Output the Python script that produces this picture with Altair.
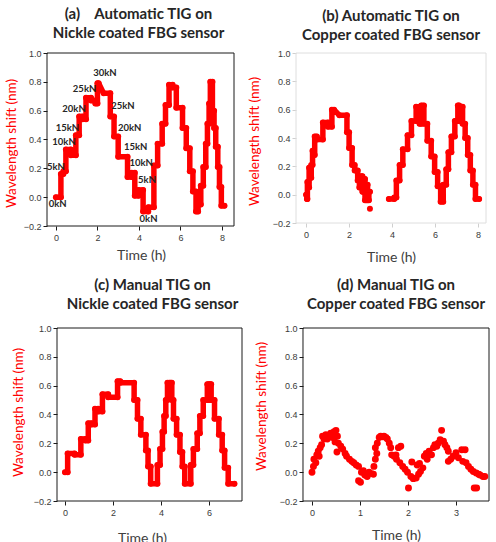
import altair as alt
import pandas as pd

RED = "#ff0000"
INK = "#262626"
LABEL_GREY = "#3a3a3a"
TITLE_FONT = "Lato"
TICK_FONT = "Liberation Sans"

Y_DOMAIN = [-0.2, 1.0]
Y_TICKS = [-0.2, 0.0, 0.2, 0.4, 0.6, 0.8, 1.0]

# ---------------- (a) Automatic TIG, nickel-coated FBG: load steps ----------------
a_start = [0.00, 0.24, 0.36, 0.48, 0.72, 0.96, 1.12, 1.28, 1.45, 1.69, 1.90, 2.00, 2.30, 2.62, 2.80,
           3.00, 3.45, 3.65, 3.80, 3.98, 4.20, 4.45, 4.72, 4.90, 5.12, 5.28, 5.45, 5.62, 5.80, 6.10,
           6.28, 6.45, 6.60, 6.75, 6.85, 6.98, 7.10, 7.22, 7.30, 7.38, 7.44, 7.54, 7.62, 7.70, 7.80,
           7.88, 7.97]
a_end = [0.24, 0.36, 0.48, 0.72, 0.96, 1.12, 1.28, 1.45, 1.69, 1.90, 2.00, 2.06, 2.62, 2.80, 3.00,
         3.45, 3.65, 3.80, 3.98, 4.20, 4.45, 4.72, 4.90, 5.12, 5.28, 5.45, 5.62, 5.80, 6.10, 6.28,
         6.45, 6.60, 6.75, 6.85, 6.98, 7.10, 7.22, 7.30, 7.38, 7.44, 7.54, 7.62, 7.70, 7.80, 7.88,
         7.97, 8.12]
a_level = [0.00, 0.16, 0.18, 0.33, 0.29, 0.43, 0.56, 0.54, 0.69, 0.67, 0.65, 0.79, 0.72, 0.56, 0.42,
           0.28, 0.14, 0.17, 0.01, 0.05, -0.10, -0.07, 0.22, 0.37, 0.51, 0.64, 0.78, 0.76, 0.62, 0.48,
           0.34, 0.18, 0.04, -0.10, -0.05, 0.08, 0.21, 0.37, 0.51, 0.65, 0.80, 0.60, 0.48, 0.35, 0.21,
           0.07, -0.06]

# load annotations on (a)
a_note_text = ["0kN", "5kN", "10kN", "15kN", "20kN", "25kN", "30kN",
               "25kN", "20kN", "15kN", "10kN", "5kN", "0kN"]
a_note_t = [0.08, 0.00, 0.39, 0.55, 0.87, 1.38, 2.36, 3.23, 3.55, 3.84, 4.11, 4.39, 4.46]
a_note_y = [-0.05, 0.21, 0.38, 0.48, 0.61, 0.75, 0.86, 0.63, 0.48, 0.35, 0.24, 0.12, -0.15]

# ---------------- (b) Automatic TIG, copper-coated FBG ----------------
b1_start = [0.00, 0.04, 0.06, 0.10, 0.14, 0.20, 0.24, 0.30, 0.34, 0.40, 0.50, 0.78, 1.02, 1.20,
            1.55, 1.90, 2.00, 2.14, 2.26, 2.40, 2.48, 2.56, 2.62, 2.68, 2.74, 2.80, 2.86, 2.92]
b1_end = [0.04, 0.06, 0.10, 0.14, 0.20, 0.24, 0.30, 0.34, 0.40, 0.50, 0.78, 1.02, 1.20, 1.30,
          1.90, 2.00, 2.14, 2.26, 2.40, 2.48, 2.56, 2.62, 2.68, 2.74, 2.80, 2.86, 2.92, 2.97]
b1_level = [0.00, -0.03, 0.09, 0.05, 0.19, 0.12, 0.21, 0.31, 0.28, 0.41, 0.39, 0.51, 0.48, 0.60,
            0.56, 0.44, 0.33, 0.21, 0.17, 0.10, 0.05, 0.13, 0.02, 0.11, -0.04, 0.07, -0.04, 0.02]

b2_start = [3.85, 4.10, 4.20, 4.35, 4.50, 4.72, 4.90, 5.12, 5.28, 5.36, 5.48, 5.64, 5.82, 5.98,
            6.12, 6.26, 6.38, 6.52, 6.62, 6.76, 6.92, 7.06, 7.12, 7.18, 7.28, 7.40, 7.52, 7.64,
            7.76, 7.88]
b2_end = [4.10, 4.20, 4.35, 4.50, 4.72, 4.90, 5.12, 5.28, 5.36, 5.48, 5.64, 5.82, 5.98, 6.12,
          6.26, 6.38, 6.52, 6.62, 6.76, 6.92, 7.06, 7.12, 7.18, 7.28, 7.40, 7.52, 7.64, 7.76,
          7.88, 8.05]
b2_level = [-0.03, -0.02, 0.10, 0.21, 0.32, 0.42, 0.52, 0.62, 0.50, 0.63, 0.50, 0.38, 0.27, 0.16,
            0.06, -0.05, 0.07, 0.18, 0.30, 0.41, 0.52, 0.63, 0.52, 0.62, 0.50, 0.40, 0.28, 0.17,
            0.07, -0.03]

b_stray_t = [2.97]
b_stray_y = [-0.10]

# ---------------- (c) Manual TIG, nickel-coated FBG ----------------
c_start = [0.00, 0.11, 0.40, 0.66, 0.85, 0.97, 1.10, 1.25, 1.38, 1.56, 1.80, 2.19, 2.30, 2.88,
           3.02, 3.16, 3.37, 3.46, 3.57, 3.85, 3.96, 4.06, 4.13, 4.20, 4.27, 4.35, 4.40, 4.45,
           4.52, 4.65, 4.79, 4.89, 4.99, 5.24, 5.35, 5.51, 5.62, 5.76, 5.93, 6.00, 6.04, 6.09,
           6.23, 6.41, 6.55, 6.65, 6.80]
c_end = [0.11, 0.40, 0.66, 0.85, 0.97, 1.10, 1.25, 1.38, 1.56, 1.80, 2.19, 2.30, 2.88, 3.02,
         3.16, 3.37, 3.46, 3.57, 3.85, 3.96, 4.06, 4.13, 4.20, 4.27, 4.35, 4.40, 4.45, 4.52,
         4.65, 4.79, 4.89, 4.99, 5.24, 5.35, 5.51, 5.62, 5.76, 5.93, 6.00, 6.04, 6.09, 6.23,
         6.41, 6.55, 6.65, 6.80, 7.06]
c_level = [0.00, 0.13, 0.12, 0.23, 0.22, 0.34, 0.33, 0.44, 0.42, 0.54, 0.52, 0.63, 0.62, 0.50,
           0.37, 0.26, 0.15, 0.04, -0.08, 0.05, 0.16, 0.28, 0.39, 0.50, 0.62, 0.51, 0.62, 0.50,
           0.37, 0.26, 0.14, 0.04, -0.08, 0.05, 0.16, 0.27, 0.39, 0.50, 0.61, 0.50, 0.61, 0.50,
           0.37, 0.26, 0.15, 0.03, -0.08]

# ---------------- (d) Manual TIG, copper-coated FBG: scattered readings ----------------
d_t = [0.00, 0.03, 0.04, 0.08, 0.10, 0.13, 0.15, 0.17, 0.20, 0.22, 0.25, 0.29, 0.32, 0.36, 0.39,
       0.43, 0.46, 0.48, 0.50, 0.52, 0.53, 0.55, 0.60, 0.64, 0.69, 0.72, 0.78, 0.83, 0.87, 0.92,
       0.97, 0.97, 1.01, 1.03, 1.07, 1.10, 1.15, 1.19, 1.24, 1.28,
       1.29, 1.32, 1.35, 1.32, 1.36, 1.40, 1.43, 1.47, 1.50, 1.54, 1.57, 1.61, 1.64, 1.66, 1.71,
       1.75, 1.80, 1.85, 1.76, 1.83, 1.89, 1.94, 1.99, 2.01, 2.06, 2.08, 2.11, 2.17, 2.19, 2.24,
       2.22,
       2.26, 2.31, 2.34, 2.38, 2.40, 2.44, 2.49, 2.53, 2.56, 2.60, 2.63, 2.67, 2.70, 2.74, 2.77,
       2.81, 2.84, 2.84, 2.89, 2.94, 3.00, 3.05, 3.12, 3.19, 3.14, 3.21, 3.26, 3.31, 3.36, 3.38,
       3.43, 3.42, 3.47, 3.50, 3.56, 3.60]
d_y = [0.00, 0.04, 0.09, 0.065, 0.12, 0.145, 0.11, 0.17, 0.19, 0.25, 0.23, 0.26, 0.23, 0.25, 0.27,
       0.24, 0.28, 0.21, 0.29, 0.14, 0.25, 0.20, 0.18, 0.16, 0.13, 0.11, 0.09, 0.075, 0.065, 0.05,
       0.04, -0.06, -0.07, 0.00, 0.01, -0.02, -0.03, 0.00, -0.01, -0.015,
       0.04, 0.09, 0.13, 0.17, 0.20, 0.24, 0.25, 0.245, 0.25, 0.24, 0.23, 0.20, 0.17, 0.12, 0.11,
       0.12, 0.17, 0.18, 0.09, 0.065, 0.04, 0.02, 0.00, -0.11, -0.03, 0.07, -0.045, -0.04, 0.05,
       0.06, -0.015,
       0.005, 0.03, 0.11, 0.13, 0.09, 0.145, 0.12, 0.17, 0.19, 0.18, 0.20, 0.225, 0.29, 0.215,
       0.19, 0.17, 0.145, 0.075, 0.09, 0.11, 0.135, 0.10, 0.155, 0.155, 0.075, 0.065, 0.04, 0.02,
       0.005, -0.11, -0.11, -0.005, -0.015, -0.02, -0.03, -0.03]


def step_table(starts, ends, levels, seg=0):
    """Turn (start, end, level) load steps into an ordered line path."""
    assert len(starts) == len(ends) == len(levels)
    rows = []
    for s, e, v in zip(starts, ends, levels):
        rows.append({"t": s, "v": v})
        rows.append({"t": e, "v": v})
    df = pd.DataFrame(rows)
    df["idx"] = range(len(df))
    df["seg"] = seg
    return df


def make_panel(title_lines, title_dx, title_offset, x_domain, frame_x, width, height, x_ticks,
               frame_color, tick_color, y_shift, ytitle_xy, xtitle_xy,
               line_df=None, dot_df=None, dot_size=36, notes_df=None):
    xs = alt.Scale(domain=x_domain, nice=False, zero=False)
    ys = alt.Scale(domain=Y_DOMAIN, nice=False, zero=False)

    x_axis = alt.Axis(values=x_ticks, format="d", grid=False, domain=False, tickSize=4,
                      tickColor=tick_color, labelColor=LABEL_GREY, labelFont=TICK_FONT,
                      labelFontSize=9, labelPadding=3, title="Time (h)", titleFont=TITLE_FONT,
                      titleFontSize=14, titleFontWeight="normal", titleColor="#404040",
                      titleX=xtitle_xy[0], titleY=xtitle_xy[1], titleBaseline="middle",
                      titleAlign="center")
    y_axis = alt.Axis(values=Y_TICKS, format=".1f", grid=False, domain=False, tickSize=4,
                      tickColor=tick_color, labelColor=LABEL_GREY, labelFont=TICK_FONT,
                      labelFontSize=9, labelPadding=2, offset=-y_shift,
                      title="Wavelength shift (nm)", titleFont=TITLE_FONT, titleFontSize=13.5,
                      titleFontWeight="normal", titleColor=RED, titleX=ytitle_xy[0],
                      titleY=ytitle_xy[1], titleBaseline="middle", titleAlign="center")

    def X(field="t"):
        return alt.X(f"{field}:Q", scale=xs, axis=x_axis)

    def Y(field="v"):
        return alt.Y(f"{field}:Q", scale=ys, axis=y_axis)

    frame_df = pd.DataFrame({"t": [frame_x[0]], "t2": [frame_x[1]],
                             "v": [Y_DOMAIN[0]], "v2": [Y_DOMAIN[1]]})
    layers = [alt.Chart(frame_df).mark_rect(fill="transparent", stroke=frame_color,
                                            strokeWidth=1).encode(
        x=X(), x2="t2:Q", y=Y(), y2="v2:Q")]

    if line_df is not None:
        layers.append(alt.Chart(line_df).mark_line(
            color=RED, strokeWidth=5.5, strokeCap="round", strokeJoin="round").encode(
            x=X(), y=Y(), order="idx:Q", detail="seg:N"))
    if dot_df is not None:
        layers.append(alt.Chart(dot_df).mark_circle(color=RED, size=dot_size, opacity=1).encode(
            x=X(), y=Y()))
    if notes_df is not None:
        layers.append(alt.Chart(notes_df).mark_text(
            font=TITLE_FONT, fontWeight="bold", fontSize=9.5, color=INK).encode(
            x=X(), y=Y(), text="lab:N"))

    title = alt.TitleParams(text=title_lines, font=TITLE_FONT, fontSize=15, fontWeight="bold",
                            color=INK, anchor="middle", frame="group", dx=title_dx,
                            offset=title_offset, lineHeight=19)
    return alt.layer(*layers).properties(width=width, height=height, title=title)


# (a)
a_line = step_table(a_start, a_end, a_level)
a_notes = pd.DataFrame({"t": a_note_t, "v": a_note_y, "lab": a_note_text})
panel_a = make_panel(["(a)\u00a0\u00a0\u00a0 Automatic TIG on", "Nickle coated FBG sensor"],
                     -2, 8, [-0.43, 8.58], [-0.43, 8.58], 187, 173, [0, 2, 4, 6, 8],
                     "#1a1a1a", "#1a1a1a", 0, (-36, 90), (94, 29),
                     line_df=a_line, dot_df=a_line[["t", "v"]], notes_df=a_notes)

# (b)
b_line = pd.concat([step_table(b1_start, b1_end, b1_level, 0),
                    step_table(b2_start, b2_end, b2_level, 1)], ignore_index=True)
b_dots = pd.concat([b_line[["t", "v"]],
                    pd.DataFrame({"t": b_stray_t, "v": b_stray_y})], ignore_index=True)
panel_b = make_panel(["(b) Automatic TIG on", "Copper coated FBG sensor"],
                     0, 6, [-0.47, 8.37], [-0.47, 8.37], 190, 170, [0, 2, 4, 6, 8],
                     "#dedede", "#cfcfcf", 0, (-42, 88), (95, 34),
                     line_df=b_line, dot_df=b_dots)

# (c)
c_line = step_table(c_start, c_end, c_level)
panel_c = make_panel(["(c) Manual TIG on", "Nickle coated FBG sensor"],
                     8, 12, [-0.75, 7.375], [-0.333, 7.375], 195, 173, [0, 2, 4, 6],
                     "#1a1a1a", "#1a1a1a", 10, (-39, 84), (95, 37),
                     line_df=c_line, dot_df=c_line[["t", "v"]])

# (d)
d_df = pd.DataFrame({"t": d_t, "v": d_y})
panel_d = make_panel(["(d) Manual TIG on", "Copper coated FBG sensor"],
                     3.5, 12, [-0.3333, 3.6875], [-0.1875, 3.6875], 193, 173, [0, 1, 2, 3],
                     "#1a1a1a", "#1a1a1a", 7, (-42, 78), (100, 34),
                     dot_df=d_df, dot_size=48)

chart = alt.concat(panel_a, panel_b, panel_c, panel_d, columns=2,
                   spacing=alt.RowColnumber(row=102, column=54), bounds="flush").configure_view(
    stroke=None).properties(
    padding={"left": 4, "top": 7, "right": 5, "bottom": 5}, background="white")

chart.save("out.html", embed_options={"renderer": "svg", "actions": False})
